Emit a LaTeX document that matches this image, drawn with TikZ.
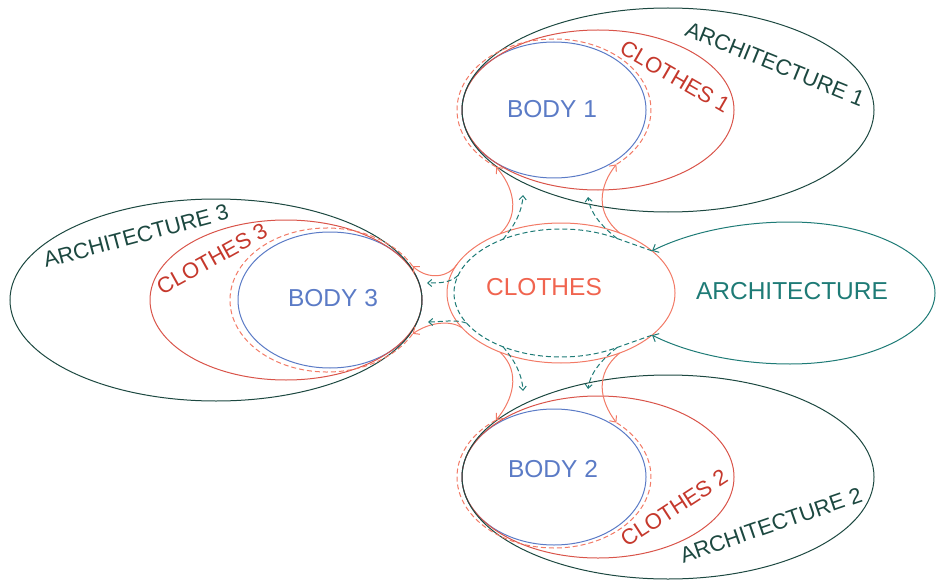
\documentclass[tikz,border=0pt]{standalone}
\usepackage{fontspec}
\setmainfont{Liberation Sans}
\usetikzlibrary{shapes.geometric,arrows.meta}
\definecolor{archdark}{HTML}{1C4840}
\definecolor{archteal}{HTML}{1E7B76}
\definecolor{clothesln}{HTML}{D9544A}
\definecolor{clothesdk}{HTML}{C5382C}
\definecolor{coral}{HTML}{F27A66}
\definecolor{coraltx}{HTML}{F0644F}
\definecolor{bodyblue}{HTML}{5B7BC6}
\begin{document}
\begin{tikzpicture}[x=1pt,y=-1pt,
  ell/.style={ellipse, draw, inner sep=0pt, outer sep=0pt, line width=1pt},
  lbl/.style={font=\fontsize{22}{22}\selectfont, inner sep=0pt},
  big/.style={font=\fontsize{24.5}{24.5}\selectfont, inner sep=0pt},
  neck/.style={draw=coral, line width=1pt, -{Straight Barb[length=5pt,width=9pt]}},
  reddash/.style={draw=coral, line width=1pt, dash pattern=on 5pt off 3pt},
  tealdash/.style={draw=archteal, line width=1pt, dash pattern=on 5pt off 3pt},
  tealarrow/.style={tealdash, -{Straight Barb[length=4pt,width=7pt]}}
]
\useasboundingbox (0,0) rectangle (936,580);

% ---- group 1 (top)
\node[ell, draw=bodyblue, minimum width=184pt, minimum height=136pt] (body1) at (554,110) {};
\node[ell, draw=clothesln, minimum width=272pt, minimum height=160pt] (clo1) at (598,110) {};
\node[ell, draw=archdark, minimum width=412pt, minimum height=204pt] (arch1) at (668,110) {};
% ---- group 2 (bottom)
\node[ell, draw=bodyblue, minimum width=184pt, minimum height=136pt] (body2) at (554,477) {};
\node[ell, draw=clothesln, minimum width=272pt, minimum height=162pt] (clo2) at (598,477) {};
\node[ell, draw=archdark, minimum width=412pt, minimum height=204pt] (arch2) at (668,477) {};
% ---- group 3 (left)
\node[ell, draw=bodyblue, minimum width=184pt, minimum height=136pt] (body3) at (330,300) {};
\node[ell, draw=clothesln, minimum width=272pt, minimum height=160pt] (clo3) at (286,300) {};
\node[ell, draw=archdark, minimum width=412pt, minimum height=202pt] (arch3) at (216,300) {};

% ---- central clothes
\node[ell, draw=coral, minimum width=228pt, minimum height=140pt] (clothes) at (561,293) {};

% ---- coordinates
\coordinate (d3c) at (327,300);
\coordinate (d1L) at ([shift={(126.7:97 and 71)}]body1.center);
\coordinate (d1R) at ([shift={(50:97 and 71)}]body1.center);
\coordinate (d2L) at ([shift={(-126.7:97 and 71)}]body2.center);
\coordinate (d2R) at ([shift={(-50:97 and 71)}]body2.center);
\coordinate (d3U) at ([shift={(-28:97 and 72)}]d3c);
\coordinate (d3D) at ([shift={(28:97 and 72)}]d3c);

\coordinate (nUL) at ([shift={(-122.3:114 and 70)}]clothes.center);
\coordinate (nUR) at ([shift={(-59:114 and 70)}]clothes.center);
\coordinate (nDL) at ([shift={(122.3:114 and 70)}]clothes.center);
\coordinate (nDR) at ([shift={(59:114 and 70)}]clothes.center);
\coordinate (nLU) at ([shift={(-155.8:114 and 70)}]clothes.center);
\coordinate (nLD) at ([shift={(150.3:114 and 70)}]clothes.center);
\coordinate (tipAU) at ([shift={(-37:114 and 70)}]clothes.center);
\coordinate (tipAL) at ([shift={(37:114 and 70)}]clothes.center);

\coordinate (iUL) at ([shift={(-122.8:107 and 64)}]clothes.center);
\coordinate (iUR) at ([shift={(-58.4:107 and 64)}]clothes.center);
\coordinate (iDL) at ([shift={(122.8:107 and 64)}]clothes.center);
\coordinate (iDR) at ([shift={(58.4:107 and 64)}]clothes.center);
\coordinate (iLU) at ([shift={(-164:107 and 64)}]clothes.center);
\coordinate (iLD) at ([shift={(152:107 and 64)}]clothes.center);
\coordinate (aUL) at (523,195);
\coordinate (aUR) at (588,197);
\coordinate (aDL) at (523,391);
\coordinate (aDR) at (588,389);
\coordinate (aLU) at (427,283);
\coordinate (aLD) at (428,322);

% ---- dashed clothes around bodies
\draw[reddash] (d1L) arc[start angle=126.7, end angle=410, x radius=97, y radius=71];
\draw[reddash] (d2L) arc[start angle=-126.7, end angle=-410, x radius=97, y radius=71];
\draw[reddash] (d3U) arc[start angle=-28, end angle=-332, x radius=97, y radius=72];

% ---- necks
\draw[neck] (nUL) .. controls (522,213) and (512,185) .. (d1L);
\draw[neck] (nUR) .. controls (594,212) and (600,185) .. (d1R);
\draw[neck] (nDL) .. controls (522,373) and (512,401) .. (d2L);
\draw[neck] (nDR) .. controls (594,374) and (600,401) .. (d2R);
\draw[neck] (nLU) .. controls (448,278) and (428,280) .. (d3U);
\draw[neck] (nLD) .. controls (450,320) and (430,322) .. (d3D);

% ---- architecture
\draw[tealdash] (tipAU) -- ([shift={(-61:107 and 64)}]clothes.center)
  arc[start angle=-61, end angle=-299, x radius=107, y radius=64] -- (tipAL);
\draw[archteal, line width=1pt, {Straight Barb[length=5pt,width=9pt]}-{Straight Barb[length=5pt,width=9pt]}]
  (tipAU) .. controls (690,232) and (740,222) .. (790,222)
  .. controls (870,222) and (935,254) .. (935,293)
  .. controls (935,332) and (870,364) .. (790,364)
  .. controls (740,364) and (690,354) .. (tipAL);

\draw[tealarrow] (iUL) .. controls (515,225) and (522,212) .. (aUL);
\draw[tealarrow] (iUR) .. controls (600,225) and (590,212) .. (aUR);
\draw[tealarrow] (iDL) .. controls (515,361) and (522,374) .. (aDL);
\draw[tealarrow] (iDR) .. controls (600,361) and (590,374) .. (aDR);
\draw[tealarrow] (iLU) .. controls (450,283) and (440,283) .. (aLU);
\draw[tealarrow] (iLD) .. controls (455,319) and (440,322) .. (aLD);

% ---- texts
\node[big, text=coraltx] (clothesT) at (544,287) {CLOTHES};
\node[big, text=archteal] (archT) at (792,291) {ARCHITECTURE};
\node[big, text=bodyblue] (b1t) at (552,109) {BODY 1};
\node[big, text=bodyblue] (b2t) at (553,469) {BODY 2};
\node[big, text=bodyblue] (b3t) at (333,298) {BODY 3};
\node[lbl, text=archdark, rotate=-22] (a1lab) at (775,64) {ARCHITECTURE 1};
\node[lbl, text=clothesdk, rotate=-30] (c1lab) at (675,77) {CLOTHES 1};
\node[lbl, text=archdark, rotate=15] (a3lab) at (136,236) {ARCHITECTURE 3};
\node[lbl, text=clothesdk, rotate=29] (c3lab) at (212,259) {CLOTHES 3};
\node[lbl, text=clothesdk, rotate=33] (c2lab) at (674,508) {CLOTHES 2};
\node[lbl, text=archdark, rotate=19] (a2lab) at (771,525) {ARCHITECTURE 2};
\end{tikzpicture}
\end{document}
